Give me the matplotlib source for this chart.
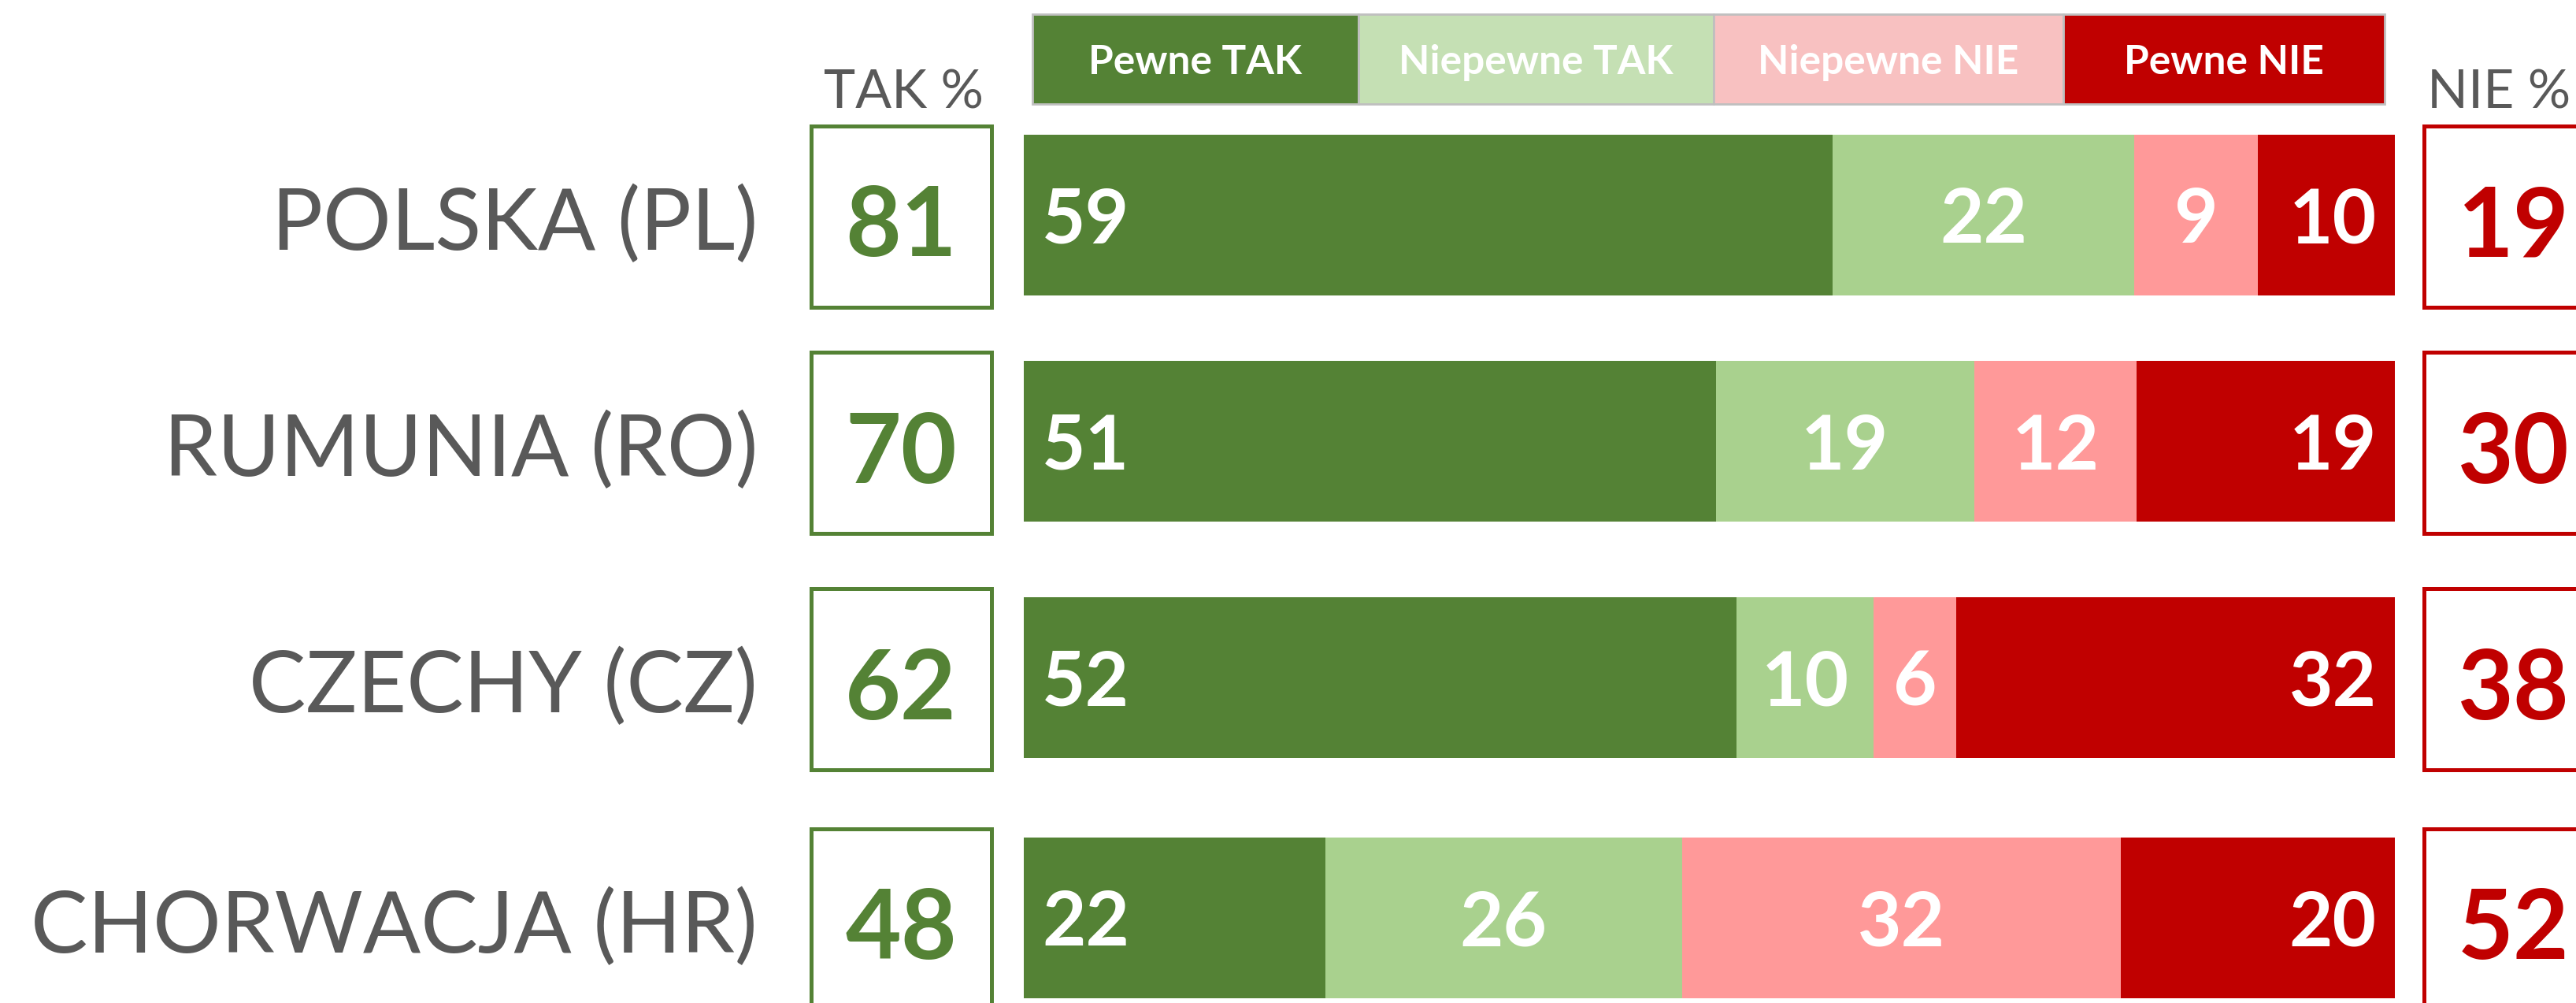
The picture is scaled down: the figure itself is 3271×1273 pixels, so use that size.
import matplotlib
matplotlib.use("Agg")
import matplotlib.pyplot as plt
from matplotlib.patches import Rectangle
import numpy as np

# ---------------- data ----------------
countries = ["POLSKA (PL)", "RUMUNIA (RO)", "CZECHY (CZ)", "CHORWACJA (HR)"]
series_names = ["Pewne TAK", "Niepewne TAK", "Niepewne NIE", "Pewne NIE"]
pewne_tak = [59, 51, 52, 22]
niepewne_tak = [22, 19, 10, 26]
niepewne_nie = [9, 12, 6, 32]
pewne_nie = [10, 19, 32, 20]
tak_total = [81, 70, 62, 48]
nie_total = [19, 30, 38, 52]

# ---------------- style / layout ----------------
W, H = 3271, 1273
BAR_COLORS = ["#548235", "#A9D18E", "#FF9999", "#C00000"]
LEG_COLORS = ["#548235", "#C5E0B4", "#F8C1C1", "#C00000"]
GREEN, RED, GRAY = "#548235", "#C00000", "#595959"
LABEL_FONT = ["Lato", "DejaVu Sans"]
NUM_FONT = ["Lato", "DejaVu Sans"]

BAR_X0_PX, PX_PER_PCT = 1300.0, 17.41
row_y = [272.5, 559.5, 859.5, 1164.5]      # row centres (pixels from top)
BAR_H = 204

def px2x(px):
    return (px - BAR_X0_PX) / PX_PER_PCT

fig = plt.figure(figsize=(W / 100, H / 100), dpi=100)
ax = fig.add_axes([0, 0, 1, 1])
ax.set_xlim(px2x(0), px2x(W))
ax.set_ylim(H, 0)
ax.axis("off")

# ---------------- stacked bars ----------------
series = np.array([pewne_tak, niepewne_tak, niepewne_nie, pewne_nie], dtype=float)
shares = series / series.sum(axis=0) * 100
left = np.zeros(len(countries))
pad = 23 / PX_PER_PCT
for si in range(4):
    ax.barh(row_y, shares[si], left=left, height=BAR_H, color=BAR_COLORS[si],
            edgecolor="none")
    for ri in range(len(countries)):
        val = int(series[si, ri])
        base = row_y[ri] + 36
        if si == 0:
            x, ha = left[ri] + pad, "left"
        elif si == 3:
            x, ha = left[ri] + shares[si, ri] - pad, "right"
        else:
            x, ha = left[ri] + shares[si, ri] / 2, "center"
        ax.text(x, base, str(val), ha=ha, va="baseline", color="white",
                fontsize=69, fontweight="bold", family=NUM_FONT)
    left += shares[si]

# ---------------- country labels ----------------
for ri, name in enumerate(countries):
    ax.text(px2x(962), row_y[ri] + 45, name, ha="right", va="baseline",
            color=GRAY, fontsize=78, family=LABEL_FONT)

# ---------------- TAK / NIE boxes ----------------
box_w = (1258.5 - 1029.5) / PX_PER_PCT
box_h = 230
lw_pt = 5 * 72 / 100
for ri in range(len(countries)):
    cy = row_y[ri] + 2
    ax.add_patch(Rectangle((px2x(1029.5), cy - box_h / 2), box_w, box_h,
                           facecolor="white", edgecolor=GREEN, lw=lw_pt,
                           clip_on=False))
    ax.add_patch(Rectangle((px2x(3077.5), cy - box_h / 2), box_w, box_h,
                           facecolor="white", edgecolor=RED, lw=lw_pt,
                           clip_on=False))
    ax.text(px2x(1144), row_y[ri] + 53, str(tak_total[ri]), ha="center",
            va="baseline", color=GREEN, fontsize=88, fontweight="bold",
            family=NUM_FONT)
    ax.text(px2x(3192), row_y[ri] + 53, str(nie_total[ri]), ha="center",
            va="baseline", color=RED, fontsize=88, fontweight="bold",
            family=NUM_FONT)

# headers
ax.text(px2x(1148), 137, "TAK %", ha="center", va="baseline", color=GRAY,
        fontsize=49, family=LABEL_FONT)
ax.text(px2x(3264), 137, "NIE %", ha="right", va="baseline", color=GRAY,
        fontsize=49, family=LABEL_FONT)

# ---------------- legend ----------------
leg_bounds = [1311, 1725, 2176, 2620, 3028]
leg_top, leg_bot = 18, 132
for i, name in enumerate(series_names):
    x0, x1 = px2x(leg_bounds[i]), px2x(leg_bounds[i + 1])
    ax.add_patch(Rectangle((x0, leg_top), x1 - x0, leg_bot - leg_top,
                           facecolor=LEG_COLORS[i], edgecolor="#BFBFBF",
                           lw=2.0, clip_on=False))
    ax.text((x0 + x1) / 2, (leg_top + leg_bot) / 2 + 19, name, ha="center",
            va="baseline", color="white", fontsize=37, fontweight="bold",
            family=NUM_FONT)

fig.savefig("out.png", dpi=100, facecolor="white")
